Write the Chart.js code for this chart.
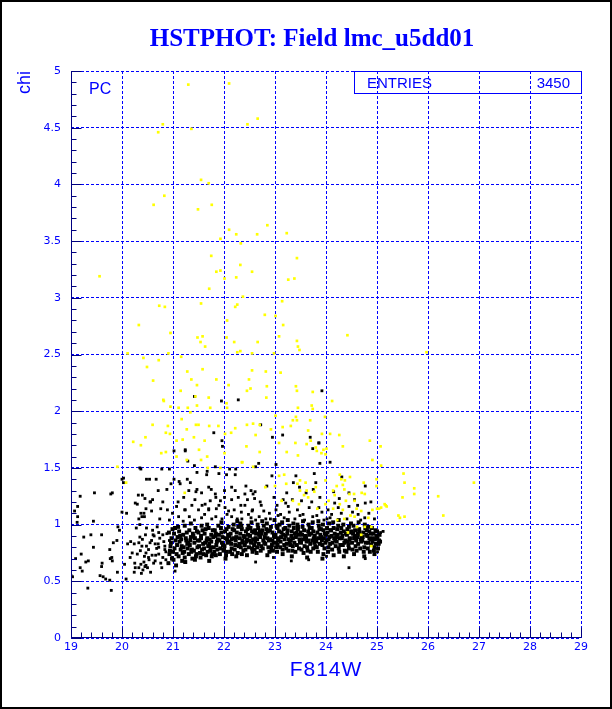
<!DOCTYPE html>
<html>
<head>
<meta charset="utf-8">
<title>HSTPHOT: Field lmc_u5dd01</title>
<script src="https://cdn.jsdelivr.net/npm/chart.js@4.4.1/dist/chart.umd.min.js"></script>
<style>
  html, body { margin: 0; padding: 0; background: #fff; }
  canvas { display: block; }
</style>
</head>
<body>
<canvas id="hstphot" width="612" height="709"></canvas>
<script>
// axis ranges and stats box
const xRange = [19, 29];
const yRange = [0, 5];
const entries = '3450';

// yellow stars (F814W, chi)
const yellowStars = [
  [21.30,4.88],[22.10,4.89],[20.80,4.53],[20.71,4.46],[21.36,4.49],[22.46,4.53],[22.66,4.58],[21.55,4.04],[21.70,4.01],
  [20.83,3.90],[20.62,3.82],[21.49,3.78],[21.76,3.82],[22.10,3.60],[22.24,3.56],[22.65,3.56],[22.85,3.64],[23.23,3.57],
  [21.93,3.52],[22.33,3.48],[21.75,3.37],[22.32,3.29],[23.43,3.35],[21.85,3.23],[21.93,3.24],[22.24,3.18],[22.55,3.23],
  [22.01,3.17],[23.26,3.16],[23.38,3.17],[19.56,3.19],[21.71,3.08],[22.37,3.01],[20.73,2.93],[20.84,2.92],[21.55,2.95],
  [22.26,2.94],[22.22,2.92],[23.14,2.97],[22.80,2.85],[23.01,2.84],[22.06,2.80],[23.16,2.76],[20.33,2.76],[20.95,2.69],
  [24.42,2.67],[21.48,2.65],[21.58,2.66],[22.05,2.65],[23.08,2.66],[21.54,2.61],[22.20,2.61],[22.66,2.61],[23.43,2.62],
  [21.63,2.57],[23.45,2.57],[23.48,2.54],[22.26,2.52],[22.32,2.53],[22.55,2.51],[20.11,2.51],[22.98,2.51],[20.91,2.51],
  [25.97,2.52],[20.42,2.47],[20.72,2.45],[21.16,2.48],[20.49,2.39],[21.58,2.37],[21.28,2.35],[22.55,2.36],[22.82,2.35],
  [23.11,2.34],[20.61,2.27],[21.36,2.28],[21.85,2.28],[22.49,2.28],[21.47,2.23],[22.09,2.23],[22.84,2.22],[23.41,2.22],
  [21.15,2.18],[22.45,2.18],[22.52,2.20],[23.43,2.18],[23.74,2.17],[21.44,2.13],[21.70,2.12],[22.83,2.12],[20.81,2.10],
  [24.12,2.09],[23.45,2.03],[23.74,2.02],[23.72,2.05],[20.95,2.04],[21.11,2.03],[21.29,2.03],[21.47,2.05],[21.73,2.03],
  [21.34,1.99],[21.17,1.93],[22.05,2.07],[22.06,2.03],[20.82,2.09],[23.01,1.96],[23.41,1.95],[23.43,1.92],[23.35,1.92],
  [23.69,1.92],[23.98,1.95],[22.45,1.88],[22.22,1.85],[23.15,1.86],[23.31,1.87],[22.92,1.84],[23.65,1.83],[22.14,1.81],
  [22.62,1.79],[24.08,1.80],[24.26,1.79],[24.86,1.74],[25.07,1.69],[23.08,1.72],[23.40,1.72],[23.62,1.71],[23.70,1.74],
  [22.44,1.69],[24.01,1.67],[24.33,1.69],[23.80,1.68],[20.60,1.88],[20.22,1.73],[20.37,1.70],[20.46,1.77],[20.86,1.81],
  [20.94,1.80],[20.90,1.87],[21.07,1.74],[21.19,1.75],[21.27,1.84],[21.41,1.77],[21.45,1.88],[21.50,1.88],[21.62,1.74],
  [21.71,1.87],[21.89,1.87],[22.02,1.80],[22.57,1.89],[21.51,1.66],[20.77,1.63],[20.86,1.64],[21.07,1.60],[21.27,1.57],
  [21.55,1.57],[21.67,1.60],[22.36,1.55],[22.57,1.51],[19.91,1.51],[20.08,1.37],[21.23,1.28],[21.93,1.50],[22.70,1.88],
  [23.92,1.80],[22.01,1.63],[22.70,1.64],[23.23,1.64],[23.45,1.61],[22.35,1.55],[23.95,1.66],[23.82,1.65],[23.91,1.63],
  [23.99,1.62],[24.91,1.57],[25.08,1.52],[21.68,1.50],[23.08,1.43],[23.49,1.39],[23.60,1.37],[23.22,1.36],[23.00,1.34],
  [23.44,1.36],[24.27,1.44],[24.30,1.40],[24.37,1.39],[24.47,1.42],[24.33,1.35],[24.21,1.34],[24.14,1.30],[24.36,1.31],
  [24.74,1.37],[24.70,1.28],[24.76,1.27],[24.99,1.40],[24.99,1.34],[23.99,1.39],[23.80,1.33],[23.77,1.29],[23.62,1.30],
  [23.57,1.26],[24.17,1.26],[24.46,1.27],[24.55,1.27],[24.56,1.21],[24.27,1.18],[24.39,1.21],[24.33,1.13],[24.60,1.14],
  [24.69,1.12],[24.91,1.13],[25.00,1.14],[25.08,1.15],[25.17,1.17],[24.14,1.14],[23.99,1.18],[24.05,1.21],[24.22,1.04],
  [24.36,1.05],[24.56,1.07],[24.83,1.06],[24.48,1.08],[24.61,0.98],[24.76,0.98],[24.89,0.98],[24.43,0.93],[24.69,0.91],
  [24.89,0.81],[23.13,1.21],[23.47,1.18],[23.83,1.14],[23.65,1.24],[23.35,1.21],[23.18,1.44],[22.81,1.33],[23.49,1.30],
  [25.52,1.45],[25.54,1.37],[25.73,1.32],[25.73,1.27],[25.50,1.24],[25.15,1.18],[25.19,1.16],[25.04,1.14],[25.42,1.08],
  [25.45,1.06],[25.54,1.07],[26.20,1.25],[26.30,1.08],[26.90,1.37]
];

// dense black band of the main sequence
const coreStars = [
  [20.91,0.66],[20.93,0.74],[20.95,0.81],[20.97,0.88],[20.92,0.93],[20.98,0.70],[20.94,0.77],[20.99,0.96],[20.96,0.84],
  [21.01,0.69],[21.03,0.79],[21.05,0.86],[21.02,0.92],[21.07,0.74],[21.08,0.82],[21.04,0.97],[21.09,0.89],[21.06,0.64],[21.00,0.76],
  [21.11,0.72],[21.13,0.85],[21.15,0.78],[21.12,0.94],[21.17,0.81],[21.18,0.68],[21.14,0.90],[21.19,0.75],[21.16,0.87],[21.10,0.98],
  [21.21,0.80],[21.23,0.71],[21.25,0.88],[21.22,0.76],[21.27,0.93],[21.28,0.83],[21.24,0.67],[21.29,0.79],[21.26,0.86],[21.20,0.91],[21.23,0.99],
  [21.31,0.74],[21.33,0.82],[21.35,0.89],[21.32,0.95],[21.37,0.78],[21.38,0.70],[21.34,0.86],[21.39,0.92],[21.36,0.76],[21.30,0.84],[21.35,1.01],
  [21.41,0.77],[21.43,0.88],[21.45,0.72],[21.42,0.84],[21.47,0.94],[21.48,0.80],[21.44,0.97],[21.49,0.86],[21.46,0.74],[21.40,0.90],[21.43,0.69],
  [21.51,0.81],[21.53,0.75],[21.55,0.90],[21.52,0.86],[21.57,0.78],[21.58,0.95],[21.54,0.71],[21.59,0.83],[21.56,0.99],[21.50,0.93],[21.55,0.88],
  [21.61,0.79],[21.63,0.84],[21.65,0.73],[21.62,0.92],[21.67,0.88],[21.68,0.76],[21.64,0.96],[21.69,0.81],[21.66,0.86],[21.60,0.74],[21.67,1.00],
  [21.71,0.83],[21.73,0.77],[21.75,0.91],[21.72,0.87],[21.77,0.74],[21.78,0.95],[21.74,0.80],[21.79,0.89],[21.76,0.72],[21.70,0.97],[21.75,0.85],[21.71,0.68],
  [21.81,0.76],[21.83,0.90],[21.85,0.82],[21.82,0.95],[21.87,0.78],[21.88,0.87],[21.84,0.73],[21.89,0.99],[21.86,0.85],[21.80,0.80],[21.84,0.92],
  [21.91,0.86],[21.93,0.79],[21.95,0.93],[21.92,0.74],[21.97,0.89],[21.98,0.82],[21.94,0.97],[21.99,0.77],[21.96,0.84],[21.90,0.91],[21.95,1.02],
  [22.01,0.81],[22.03,0.88],[22.05,0.76],[22.02,0.94],[22.07,0.84],[22.08,0.91],[22.04,0.73],[22.09,0.98],[22.06,0.87],[22.00,0.78],[22.05,0.96],[22.03,0.70],
  [22.11,0.85],[22.13,0.92],[22.15,0.79],[22.12,0.76],[22.17,0.96],[22.18,0.88],[22.14,0.83],[22.19,1.00],[22.16,0.74],[22.10,0.90],[22.15,0.87],
  [22.21,0.78],[22.23,0.86],[22.25,0.93],[22.22,0.82],[22.27,0.75],[22.28,0.98],[22.24,0.89],[22.29,0.81],[22.26,1.03],[22.20,0.95],[22.24,0.72],
  [22.31,0.88],[22.33,0.80],[22.35,0.96],[22.32,0.92],[22.37,0.84],[22.38,0.77],[22.34,0.99],[22.39,0.90],[22.36,0.86],[22.30,0.83],[22.35,0.74],[22.32,1.01],
  [22.41,0.82],[22.43,0.94],[22.45,0.87],[22.42,0.78],[22.47,0.91],[22.48,0.99],[22.44,0.85],[22.49,0.80],[22.46,0.96],[22.40,0.89],[22.45,0.73],
  [22.51,0.90],[22.53,0.84],[22.55,0.79],[22.52,0.97],[22.57,0.87],[22.58,0.93],[22.54,1.02],[22.59,0.82],[22.56,0.76],[22.50,0.86],[22.55,0.94],
  [22.61,0.85],[22.63,0.92],[22.65,0.80],[22.62,0.88],[22.67,0.97],[22.68,0.83],[22.64,0.75],[22.69,0.91],[22.66,1.00],[22.60,0.78],[22.65,0.87],[22.61,0.95],
  [22.71,0.89],[22.73,0.81],[22.75,0.95],[22.72,0.77],[22.77,0.86],[22.78,0.99],[22.74,0.92],[22.79,0.84],[22.76,0.79],[22.70,0.94],[22.75,1.03],
  [22.81,0.83],[22.83,0.96],[22.85,0.88],[22.82,0.92],[22.87,0.80],[22.88,0.86],[22.84,1.01],[22.89,0.76],[22.86,0.94],[22.80,0.89],[22.85,0.73],
  [22.91,0.87],[22.93,0.79],[22.95,0.93],[22.92,0.98],[22.97,0.84],[22.98,0.90],[22.94,0.82],[22.99,1.04],[22.96,0.77],[22.90,0.95],[22.95,0.86],
  [23.01,0.91],[23.03,0.84],[23.05,0.97],[23.02,0.80],[23.07,0.88],[23.08,0.94],[23.04,0.76],[23.09,1.00],[23.06,0.86],[23.00,0.89],[23.05,0.82],[23.03,0.99],
  [23.11,0.85],[23.13,0.93],[23.15,0.78],[23.12,0.89],[23.17,0.96],[23.18,0.82],[23.14,1.02],[23.19,0.87],[23.16,0.91],[23.10,0.80],[23.15,0.74],
  [23.21,0.90],[23.23,0.83],[23.25,0.95],[23.22,0.79],[23.27,0.87],[23.28,0.99],[23.24,0.92],[23.29,0.84],[23.26,0.77],[23.20,0.97],[23.25,1.04],
  [23.31,0.86],[23.33,0.94],[23.35,0.81],[23.32,0.90],[23.37,0.97],[23.38,0.84],[23.34,0.77],[23.39,0.92],[23.36,1.01],[23.30,0.82],[23.35,0.88],[23.33,0.72],
  [23.41,0.89],[23.43,0.82],[23.45,0.96],[23.42,0.93],[23.47,0.79],[23.48,0.87],[23.44,1.00],[23.49,0.85],[23.46,0.91],[23.40,0.76],[23.45,0.98],
  [23.51,0.84],[23.53,0.91],[23.55,0.87],[23.52,0.78],[23.57,0.95],[23.58,0.81],[23.54,0.98],[23.59,0.89],[23.56,0.75],[23.50,0.93],[23.55,1.03],
  [23.61,0.88],[23.63,0.80],[23.65,0.94],[23.62,0.85],[23.67,0.91],[23.68,0.97],[23.64,0.77],[23.69,0.83],[23.66,1.00],[23.60,0.90],[23.65,0.86],[23.63,0.71],
  [23.71,0.92],[23.73,0.86],[23.75,0.79],[23.72,0.97],[23.77,0.84],[23.78,0.90],[23.74,1.02],[23.79,0.81],[23.76,0.88],[23.70,0.76],[23.75,0.94],
  [23.81,0.85],[23.83,0.93],[23.85,0.88],[23.82,0.80],[23.87,0.96],[23.88,0.83],[23.84,0.76],[23.89,0.91],[23.86,0.99],[23.80,0.87],[23.85,1.03],
  [23.91,0.89],[23.93,0.82],[23.95,0.95],[23.92,0.86],[23.97,0.79],[23.98,0.92],[23.94,1.00],[23.99,0.84],[23.96,0.88],[23.90,0.96],[23.95,0.74],[23.93,0.70],
  [24.01,0.86],[24.03,0.93],[24.05,0.80],[24.02,0.97],[24.07,0.89],[24.08,0.83],[24.04,0.76],[24.09,0.95],[24.06,1.01],[24.00,0.91],[24.05,0.87],
  [24.11,0.90],[24.13,0.84],[24.15,0.97],[24.12,0.78],[24.17,0.92],[24.18,0.86],[24.14,1.02],[24.19,0.81],[24.16,0.88],[24.10,0.95],[24.15,0.73],
  [24.21,0.85],[24.23,0.91],[24.25,0.79],[24.22,0.96],[24.27,0.88],[24.28,0.82],[24.24,0.99],[24.29,0.93],[24.26,0.76],[24.20,0.89],[24.25,1.04],
  [24.31,0.88],[24.33,0.82],[24.35,0.94],[24.32,0.90],[24.37,0.77],[24.38,0.86],[24.34,1.00],[24.39,0.92],[24.36,0.84],[24.30,0.97],[24.35,0.72],
  [24.41,0.91],[24.43,0.85],[24.45,0.79],[24.42,0.96],[24.47,0.88],[24.48,0.93],[24.44,0.82],[24.49,1.01],[24.46,0.87],[24.40,0.76],[24.45,0.98],
  [24.51,0.84],[24.53,0.92],[24.55,0.88],[24.52,0.78],[24.57,0.95],[24.58,0.81],[24.54,0.99],[24.59,0.86],[24.56,0.90],[24.50,0.94],[24.55,0.74],
  [24.61,0.89],[24.63,0.83],[24.65,0.96],[24.62,0.92],[24.67,0.79],[24.68,0.87],[24.64,1.02],[24.69,0.85],[24.66,0.91],[24.60,0.77],[24.65,0.94],
  [24.71,0.86],[24.73,0.93],[24.75,0.80],[24.72,0.89],[24.77,0.97],[24.78,0.84],[24.74,0.76],[24.79,0.91],[24.76,1.00],[24.70,0.88],[24.75,0.72],
  [24.81,0.90],[24.83,0.84],[24.85,0.94],[24.82,0.79],[24.87,0.87],[24.88,0.92],[24.84,0.98],[24.89,0.82],[24.86,0.76],[24.80,0.95],[24.85,0.88],
  [24.91,0.85],[24.93,0.92],[24.95,0.80],[24.92,0.88],[24.97,0.95],[24.98,0.83],[24.94,0.77],[24.99,0.90],[24.96,0.87],[24.90,0.97],[24.95,0.74],
  [25.01,0.88],[25.03,0.83],[25.05,0.91],[25.02,0.79],[25.04,0.86],[25.00,0.94],[25.06,0.85]
];

// sparser black stars around and above the band
const scatterStars = [
  [19.18,1.25],[19.46,1.28],[19.78,1.27],[19.81,1.28],[19.13,1.07],[19.44,1.03],[19.25,0.89],[19.39,0.91],[19.60,0.91],
  [19.44,0.80],[19.20,0.74],[19.29,0.67],[19.34,0.68],[19.18,0.62],[19.22,0.59],[19.61,0.66],[19.60,0.63],[19.57,0.55],
  [19.63,0.54],[19.68,0.52],[19.76,0.51],[19.33,0.44],[19.79,0.42],[19.00,0.55],[19.77,0.70],[19.81,0.68],[19.83,0.84],
  [19.90,0.86],[19.91,0.58],[19.92,0.98],[19.95,0.95],[20.00,1.40],[20.03,1.41],[20.00,1.11],[19.76,0.78],[19.80,0.71],
  [19.13,1.16],[19.07,1.12],[19.12,1.02],[19.09,0.70],[19.03,0.54],
  [20.35,1.50],[20.48,1.40],[20.54,1.40],[20.67,1.40],[20.78,1.49],[20.32,1.26],[20.45,1.23],[20.30,1.18],[20.09,1.10],
  [20.37,1.10],[20.43,1.10],[20.47,1.14],[20.33,1.05],[20.39,1.07],[20.56,1.20],[20.60,1.22],[20.71,1.30],[20.88,1.31],
  [20.76,1.14],[20.89,1.13],[20.28,0.97],[20.35,1.00],[20.48,0.97],[20.60,0.95],[20.69,0.98],[20.72,0.93],[20.80,0.91],
  [20.63,0.90],[20.46,0.91],[20.35,0.89],[20.17,0.85],[20.11,0.83],[20.24,0.83],[20.33,0.84],[20.39,0.81],[20.48,0.81],
  [20.55,0.84],[20.65,0.83],[20.72,0.80],[20.84,0.81],[20.93,0.86],[20.80,0.71],[20.65,0.68],[20.52,0.71],[20.43,0.67],
  [20.37,0.65],[20.41,0.60],[20.45,0.63],[20.33,0.62],[20.25,0.66],[20.24,0.58],[20.16,0.71],[20.05,0.65],[20.08,0.52],
  [20.20,0.75],[20.30,0.74],[20.47,0.75],[20.59,0.73],[20.72,0.74],[20.86,0.76],[20.98,0.71],[21.04,0.59],[20.38,0.57],
  [20.50,0.62],[20.26,0.62],[20.52,0.78],[20.58,0.86],[20.62,0.66],[20.68,0.79],[20.74,0.88],[20.78,0.62],[20.82,0.85],
  [20.86,0.69],[20.88,0.92],[20.44,0.72],[20.56,0.58],[20.66,0.73],[20.71,0.83],[20.84,0.78],[20.40,0.87],[20.36,0.77],
  [20.61,0.91],[20.47,0.64],[20.53,0.69],[20.76,0.66],
  [21.80,1.81],[21.96,1.74],[21.97,1.69],[21.02,1.65],[21.24,1.65],[21.42,1.52],[21.83,1.51],[22.23,1.49],[22.05,1.44],
  [22.22,1.44],[21.28,1.40],[21.47,1.46],[21.66,1.44],[21.02,1.40],[21.12,1.38],[21.34,1.37],[21.47,1.31],[21.56,1.28],
  [21.75,1.31],[21.84,1.24],[22.01,1.30],[22.15,1.33],[22.28,1.24],[22.41,1.27],[22.53,1.30],[22.15,1.22],[21.93,1.21],
  [21.73,1.21],[21.63,1.18],[21.43,1.22],[21.21,1.24],[21.10,1.20],[21.23,1.13],[21.37,1.17],[21.50,1.13],[21.70,1.13],
  [21.85,1.14],[22.02,1.15],[22.20,1.13],[22.41,1.17],[22.55,1.12],[20.99,1.10],[21.11,1.07],[21.32,1.07],[21.56,1.06],
  [21.76,1.05],[21.96,1.05],[22.15,1.07],[22.35,1.05],[22.53,1.06],
  [22.94,1.43],[23.36,1.37],[23.48,1.33],[23.80,1.37],[23.61,1.28],[23.34,1.22],[23.16,1.22],[23.04,1.17],[22.73,1.17],
  [22.60,1.23],[22.61,1.29],[22.84,1.34],[23.72,1.20],[23.86,1.15],[24.04,1.13],[24.17,1.19],[24.30,1.10],[24.45,1.16],
  [24.56,1.22],[24.77,1.19],[24.63,1.09],[24.76,1.06],[24.08,1.06],[23.82,1.08],[23.55,1.09],[23.28,1.11],[23.11,1.09],
  [22.89,1.10],[22.69,1.07],[23.23,1.28],[23.75,1.31],[24.15,1.29],[24.45,1.28],[24.77,1.34],[24.31,1.42],[23.77,1.45],
  [23.41,1.43],[24.08,1.55],[23.88,1.54],[23.02,1.53],[22.68,1.54],[22.62,1.51],[23.86,1.72],
  [24.45,0.62],[24.01,0.72],[23.66,0.69],[23.32,0.68],[22.62,0.67],[24.77,0.70],[25.01,0.76],[22.97,0.71],
  [25.12,0.94],[25.07,0.93],[25.04,0.83],
  [20.03,1.37],[20.37,1.49],[20.93,1.49],[21.24,1.66],[21.29,1.56],[21.67,1.47],[21.90,1.45],[22.11,1.49],[22.43,1.34],
  [22.57,1.27],[22.46,1.22],[20.40,1.26],[20.55,1.20],[20.80,1.20],[20.96,1.36],[21.14,1.36],[21.31,1.30],[21.45,1.29],
  [21.70,1.33],[21.83,1.27],[22.01,1.24],[22.22,1.30],[21.07,1.16],[21.24,1.13],[21.57,1.17],[21.70,1.14],[21.90,1.17],
  [22.09,1.12],[22.33,1.17],[22.56,1.13],[20.58,1.12],[20.26,1.19],[20.44,1.07],[20.74,1.05],[20.93,1.04],
  [22.28,2.10],[23.92,2.18],[22.72,1.88],[22.95,1.77],[23.15,1.79],[23.69,1.77],[23.86,1.72],[23.74,1.67],[21.42,2.13],[21.95,2.09],
  [22.62,1.04],[22.78,1.12],[22.91,1.05],[23.02,1.13],[23.18,1.06],[23.26,1.16],[23.39,1.05],[23.44,1.13],[23.58,1.04],
  [23.67,1.15],[23.74,1.07],[23.92,1.11],[24.02,1.05],[24.11,1.09],[24.24,1.15],[24.41,1.05],[24.52,1.11],[24.68,1.04],
  [24.84,1.10],[24.95,1.05],[22.48,1.09],[22.34,1.11],[22.71,1.20],[22.98,1.24],[23.21,1.19],[23.52,1.21],[23.88,1.24],
  [24.26,1.23],[24.62,1.17],[24.88,1.20],[21.62,1.09],[21.84,1.07],[22.06,1.09],[22.26,1.05],[21.42,1.04],[21.20,1.03],
  [23.96,1.04],[23.49,1.08],[23.06,1.08],[22.82,1.05]
];

const blue = '#0000ff';
const axisInk = '#000080';
const toXY = pts => pts.map(p => ({x: p[0], y: p[1]}));

// ROOT-like frame: inner ticks, title, axis titles, stats box
const rootFrame = {
  id: 'rootFrame',
  beforeDraw(chart) {
    const ctx = chart.ctx;
    ctx.save();
    ctx.fillStyle = '#fff';
    ctx.fillRect(0, 0, chart.width, chart.height);
    ctx.restore();
  },
  afterDraw(chart) {
    const {ctx, chartArea: a, scales: {x, y}} = chart;
    ctx.save();

    // axes with inner ticks
    const L = Math.round(a.left) + 0.5;
    const B = Math.round(a.bottom) - 0.5;
    ctx.strokeStyle = axisInk;
    ctx.lineWidth = 1;
    ctx.beginPath();
    ctx.moveTo(L, a.top);
    ctx.lineTo(L, B);
    ctx.lineTo(a.right, B);
    for (let i = 0; i <= 50; i++) {
      const px = Math.round(x.getPixelForValue(xRange[0] + i * 0.2)) + 0.5;
      const len = i % 5 === 0 ? 10 : 5;
      ctx.moveTo(px, B);
      ctx.lineTo(px, B - len);
    }
    for (let i = 0; i <= 50; i++) {
      const py = Math.round(y.getPixelForValue(yRange[0] + i * 0.1)) + 0.5;
      const len = i % 5 === 0 ? 10 : 5;
      ctx.moveTo(L, py);
      ctx.lineTo(L + len, py);
    }
    ctx.stroke();

    // title
    ctx.fillStyle = blue;
    ctx.font = 'bold 25px "Liberation Serif"';
    ctx.textAlign = 'center';
    ctx.textBaseline = 'alphabetic';
    ctx.fillText('HSTPHOT: Field lmc_u5dd01', 312, 46);

    // x axis title
    ctx.font = '21px "Liberation Sans"';
    ctx.letterSpacing = '1px';
    ctx.fillText('F814W', 326, 676);
    ctx.letterSpacing = '0px';

    // y axis title
    ctx.save();
    ctx.translate(30, 71);
    ctx.rotate(-Math.PI / 2);
    ctx.textAlign = 'right';
    ctx.font = '18px "Liberation Sans"';
    ctx.fillText('chi', 0, 0);
    ctx.restore();

    // PC label
    ctx.textAlign = 'left';
    ctx.font = '16px "Liberation Sans"';
    ctx.fillText('PC', 89, 94);

    // stats box
    ctx.strokeStyle = blue;
    ctx.strokeRect(354.5, 71.5, 227, 22);
    ctx.font = '15px "Liberation Sans"';
    ctx.fillText('ENTRIES', 367, 88);
    ctx.textAlign = 'right';
    ctx.fillText(entries, 570, 88);

    // window border
    ctx.strokeStyle = '#000';
    ctx.lineWidth = 2;
    ctx.strokeRect(1, 1, chart.width - 2, chart.height - 2);
    ctx.restore();
  }
};

const tickFont = {family: 'DejaVu Sans', size: 11};

new Chart(document.getElementById('hstphot'), {
  type: 'scatter',
  data: {
    datasets: [
      {
        label: 'flagged',
        data: toXY(yellowStars),
        backgroundColor: '#ffff00',
        pointStyle: 'rect',
        pointRadius: 1.9,
        pointBorderWidth: 0
      },
      {
        label: 'sequence',
        data: toXY(coreStars),
        backgroundColor: '#000',
        pointStyle: 'rect',
        pointRadius: 2.8,
        pointBorderWidth: 0
      },
      {
        label: 'field',
        data: toXY(scatterStars),
        backgroundColor: '#000',
        pointStyle: 'rect',
        pointRadius: 2,
        pointBorderWidth: 0
      }
    ]
  },
  options: {
    responsive: false,
    animation: false,
    events: [],
    layout: {padding: {left: 0, top: 71, right: 31, bottom: 0}},
    plugins: {legend: {display: false}, tooltip: {enabled: false}, title: {display: false}},
    scales: {
      x: {
        type: 'linear',
        min: xRange[0],
        max: xRange[1],
        z: 1,
        afterFit: s => { s.height = 71; },
        grid: {color: blue, lineWidth: 1, drawTicks: false},
        border: {display: false, dash: [3, 2]},
        ticks: {stepSize: 1, color: blue, font: tickFont, padding: 3, maxRotation: 0, autoSkip: false}
      },
      y: {
        type: 'linear',
        min: yRange[0],
        max: yRange[1],
        z: 1,
        afterFit: s => { s.width = 71; },
        grid: {color: blue, lineWidth: 1, drawTicks: false},
        border: {display: false, dash: [3, 2]},
        ticks: {stepSize: 0.5, color: blue, font: tickFont, padding: 10, callback: v => String(v)}
      }
    }
  },
  plugins: [rootFrame]
});
</script>
</body>
</html>
